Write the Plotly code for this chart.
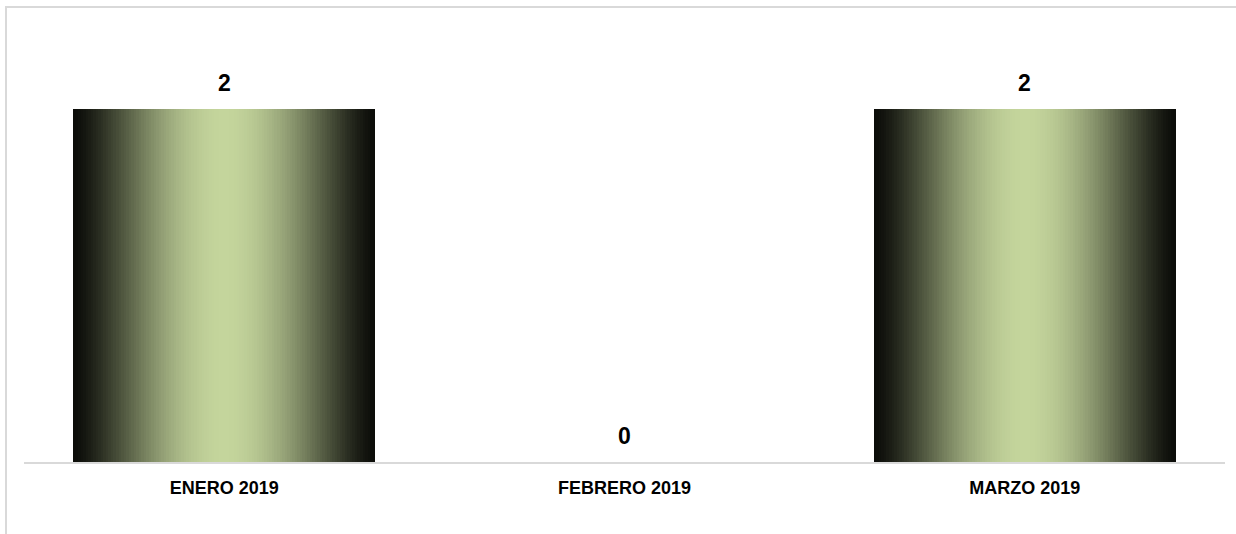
import math
import plotly.graph_objects as go

categories = ["ENERO 2019", "FEBRERO 2019", "MARZO 2019"]
values = [2, 0, 2]
value_labels = ["2", "0", "2"]

FONT = "Liberation Sans Narrow, Arial Narrow, Liberation Sans, Arial, sans-serif"

# gradient simulated with nested overlaid bars (dark edges -> light centre)
center_rgb = (196, 213, 156)
N_LAYERS = 60
BAR_WIDTH = 0.754


def shade(t):
    f = 0.06 + 0.94 * (math.sin(math.pi / 2 * t) ** 1.35)
    r, g, b = (int(round(c * f)) for c in center_rgb)
    return f"rgb({r},{g},{b})"


fig = go.Figure()
for k in range(N_LAYERS):
    t = k / N_LAYERS
    fig.add_trace(go.Bar(
        x=categories,
        y=values,
        width=BAR_WIDTH * (1 - t),
        marker=dict(color=shade(t), line=dict(width=0)),
        showlegend=False,
        hoverinfo="skip" if k else "x+y",
    ))

for cat, v, lab in zip(categories, values, value_labels):
    fig.add_annotation(
        x=cat, y=v, text=f"<b>{lab}</b>", showarrow=False,
        yanchor="middle", yshift=26,
        font=dict(family=FONT, size=23, color="#000000"),
    )

fig.add_shape(
    type="rect", xref="paper", yref="paper",
    x0=-0.015, x1=1.05, y0=-0.3, y1=1.0317,
    line=dict(color="#d9d9d9", width=2), fillcolor="rgba(0,0,0,0)",
    layer="below",
)

fig.update_layout(
    width=1236, height=534,
    margin=dict(l=24, r=11, t=21, b=72),
    barmode="overlay",
    bargap=0,
    plot_bgcolor="white", paper_bgcolor="white",
    font=dict(family=FONT, size=18, color="#000000"),
    xaxis=dict(
        showline=True, linecolor="#d9d9d9", linewidth=2,
        showgrid=False, zeroline=False,
        ticks="outside", ticklen=8, tickcolor="rgba(0,0,0,0)",
        tickfont=dict(family=FONT, size=18, color="#000000", weight="bold"),
        range=[-0.5, 2.5],
    ),
    yaxis=dict(range=[0, 2.5], visible=False, showgrid=False, zeroline=False),
)

fig.write_html(
    "out.html",
    config={"displayModeBar": False},
    post_script="document.body.style.margin='0px';",
)
